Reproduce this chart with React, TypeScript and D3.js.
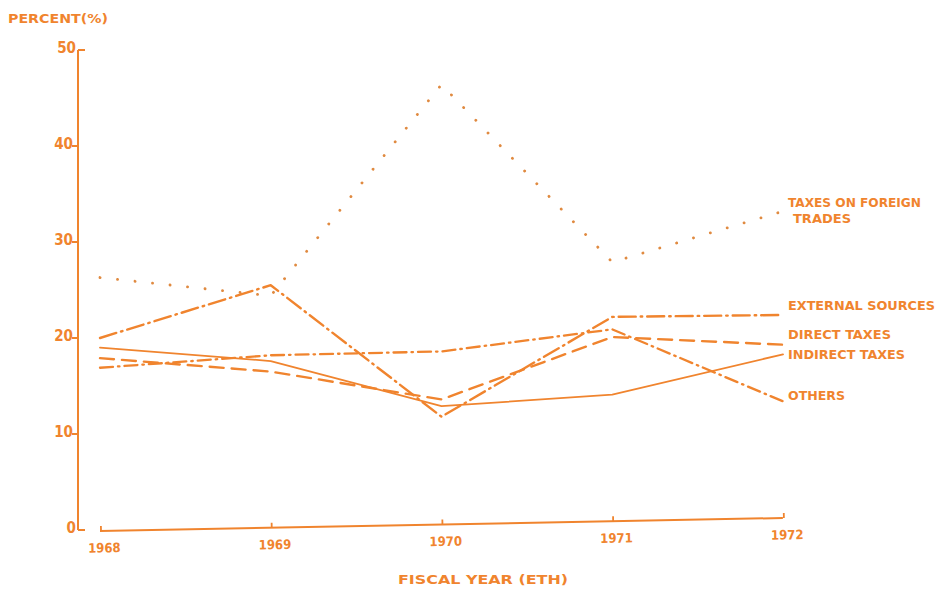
import React from "react";
import * as d3 from "d3";

const years = [1968, 1969, 1970, 1971, 1972];
const yTicks = [0, 10, 20, 30, 40, 50];

const foreignTrade = [26.3, 24.4, 46.4, 27.9, 33.2];
const externalSources = [20.0, 25.5, 11.8, 22.2, 22.4];
const directTaxes = [17.9, 16.5, 13.6, 20.1, 19.3];
const indirectTaxes = [19.0, 17.6, 12.9, 14.1, 18.3];
const others = [16.9, 18.2, 18.6, 20.9, 13.4];

const seriesNames = ["TAXES ON FOREIGN|TRADES", "EXTERNAL SOURCES", "DIRECT TAXES", "INDIRECT TAXES", "OTHERS"];

const ORANGE = "#f0842e";
const FONT = "'DejaVu Sans Condensed', 'Liberation Sans', Arial, sans-serif";

export default function App() {
  const W = 940, H = 592;
  const x = d3.scaleLinear().domain([1968, 1972]).range([100, 783]);
  const y = d3.scaleLinear().domain([0, 50]).range([530, 50]);
  const line = d3.line<number>().x((_, i) => x(years[i])).y((v) => y(v));

  const series = [
    { name: seriesNames[0], values: foreignTrade, dash: "0.1 17.5", width: 2.8, color: "#e08a40", labelDy: -8 },
    { name: seriesNames[1], values: externalSources, dash: "17 5 1.5 5", width: 2.4, color: ORANGE, labelDy: -8 },
    { name: seriesNames[2], values: directTaxes, dash: "14 8", width: 2.4, color: ORANGE, labelDy: -9 },
    { name: seriesNames[3], values: indirectTaxes, dash: "", width: 1.8, color: ORANGE, labelDy: 1 },
    { name: seriesNames[4], values: others, dash: "13 5 1.5 5", width: 2.3, color: ORANGE, labelDy: -5 },
  ];

  const labelWidths: Record<string, number> = {
    "TAXES ON FOREIGN": 133,
    "TRADES": 58,
    "EXTERNAL SOURCES": 147,
    "DIRECT TAXES": 103,
    "INDIRECT TAXES": 117,
    "OTHERS": 57,
  };

  const axisY = y(0) + 1;
  const tilt = (Math.atan2(-13, x(1972) - x(1968)) * 180) / Math.PI;

  return (
    <svg width={W} height={H} style={{ position: "absolute", left: 0, top: 0, background: "#fff" }}>
      {/* Y axis title */}
      <text x={8} y={23} fill={ORANGE} fontFamily={FONT} fontWeight="bold" fontSize={13} textLength={100} lengthAdjust="spacingAndGlyphs">
        PERCENT(%)
      </text>

      {/* Y axis */}
      <line x1={78} x2={78} y1={y(50)} y2={y(0)} stroke={ORANGE} strokeWidth={2} />
      {yTicks.map((t) => {
        const end = t === 0 || t === 50;
        return (
          <g key={t}>
            <line x1={end ? 78 : 72} x2={end ? 85 : 78} y1={y(t)} y2={y(t)} stroke={ORANGE} strokeWidth={2} />
            <text x={end ? 76 : 73} y={y(t) - 2} textAnchor="end" dominantBaseline="middle" fill={ORANGE} fontFamily={FONT} fontWeight="bold" fontSize={15}>
              {t}
            </text>
          </g>
        );
      })}

      {/* X axis (slightly tilted like the hand drawing) */}
      <g transform={`rotate(${tilt}, ${x(1968)}, ${axisY})`}>
        <line x1={x(1968)} x2={x(1972)} y1={axisY} y2={axisY} stroke={ORANGE} strokeWidth={2} />
        {years.map((yr) => (
          <g key={yr}>
            <line x1={x(yr) + 1} x2={x(yr) + 1} y1={axisY} y2={axisY - 5} stroke={ORANGE} strokeWidth={1.8} />
            <text x={x(yr) + 4} y={axisY + 18} textAnchor="middle" dominantBaseline="middle" fill={ORANGE} fontFamily={FONT} fontWeight="bold" fontSize={13}>
              {yr}
            </text>
          </g>
        ))}
      </g>
      <text x={483} y={584} textAnchor="middle" fill={ORANGE} fontFamily={FONT} fontWeight="bold" fontSize={13} textLength={170} lengthAdjust="spacingAndGlyphs">
        FISCAL YEAR (ETH)
      </text>

      {/* Series */}
      {series.map((s) => (
        <path
          key={s.name}
          d={line(s.values) || ""}
          fill="none"
          stroke={s.color}
          strokeWidth={s.width}
          strokeDasharray={s.dash || undefined}
          strokeLinecap="round"
          strokeLinejoin="round"
        />
      ))}

      {/* Labels */}
      {series.map((s) => {
        const last = s.values[s.values.length - 1];
        const parts = s.name.split("|");
        const ly = y(last) + s.labelDy;
        return parts.map((p, i) => (
          <text
            key={p}
            x={x(1972) + 5 + (i > 0 ? 5 : 0)}
            y={ly + i * 16}
            dominantBaseline="middle"
            fill={ORANGE}
            fontFamily={FONT}
            fontWeight="bold"
            fontSize={13}
            textLength={labelWidths[p]}
            lengthAdjust="spacingAndGlyphs"
          >
            {p}
          </text>
        ));
      })}
    </svg>
  );
}
